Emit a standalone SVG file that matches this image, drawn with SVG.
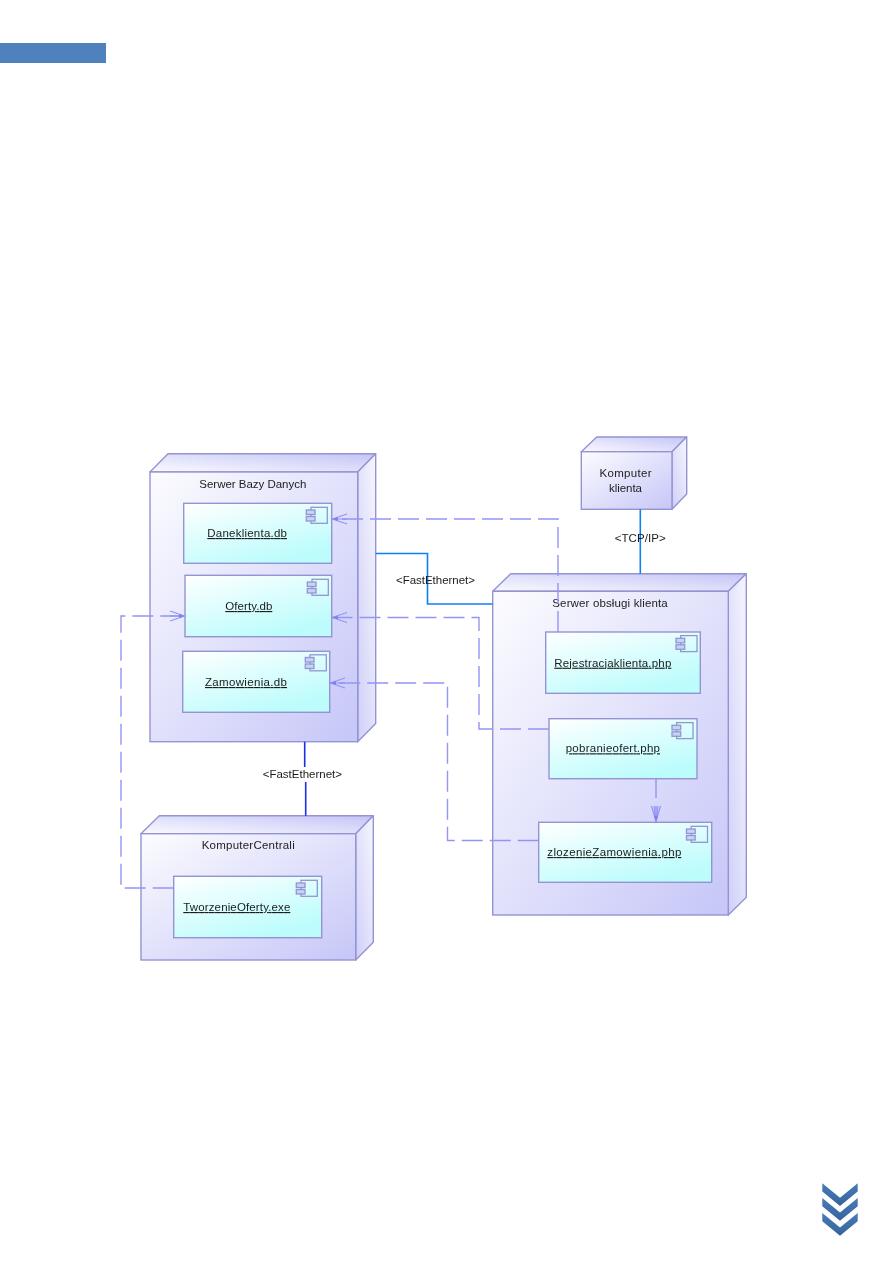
<svg xmlns="http://www.w3.org/2000/svg" xmlns:xlink="http://www.w3.org/1999/xlink" width="893" height="1263" viewBox="0 0 893 1263">
<style>
text{font-family:"Liberation Sans",Arial,sans-serif;font-size:11.5px;fill:#1c1c1c;text-anchor:start}
.front{fill:url(#gFront);stroke:#9494d2;stroke-width:1.4}
.top{fill:url(#gTop);stroke:#9494d2;stroke-width:1.4;stroke-linejoin:round}
.side{fill:url(#gSide);stroke:#9494d2;stroke-width:1.4;stroke-linejoin:round}
.comp{fill:url(#gComp);stroke:#9494d2;stroke-width:1.4}
.u{text-decoration:underline}
.ib{fill:none;stroke:#9494d2;stroke-width:1.3}
.it{fill:#c4d4f4;stroke:#9494d2;stroke-width:1.3}
.dep{fill:none;stroke:#9494f6;stroke-width:1.4;stroke-dasharray:21 7}
.dep2{fill:none;stroke:#9494f6;stroke-width:1.4}
.arrow{fill:none;stroke:#9494f6;stroke-width:1.2}
.tip{fill:#8080f4}
.net{fill:none;stroke:#1080f4;stroke-width:1.6}
.net2{fill:none;stroke:#1c2ee8;stroke-width:1.6}
</style>
<defs>
<filter id="soft" filterUnits="userSpaceOnUse" x="100" y="420" width="670" height="560"><feGaussianBlur stdDeviation="0.35"/></filter>
<linearGradient id="gFront" x1="0" y1="0" x2="1" y2="1"><stop offset="0" stop-color="#fcfcff"/><stop offset="1" stop-color="#c6c6f8"/></linearGradient>
<linearGradient id="gTop" x1="0" y1="1" x2="1" y2="0"><stop offset="0" stop-color="#fafaff"/><stop offset="1" stop-color="#c4c4f6"/></linearGradient>
<linearGradient id="gSide" x1="0" y1="1" x2="1" y2="0"><stop offset="0" stop-color="#cfcff8"/><stop offset="1" stop-color="#f6f6ff"/></linearGradient>
<linearGradient id="gComp" x1="0" y1="0" x2="0.6" y2="1"><stop offset="0" stop-color="#ffffff"/><stop offset="1" stop-color="#bcfcfc"/></linearGradient>
<linearGradient id="gChev" x1="0" y1="0" x2="0" y2="1"><stop offset="0" stop-color="#4a7bb8"/><stop offset="1" stop-color="#35639c"/></linearGradient>
<g id="icon">
<rect class="ib" x="4.7" y="-0.7" width="16.3" height="16"/>
<rect class="it" x="0" y="2" width="8.7" height="4.5"/>
<rect class="it" x="0" y="8.5" width="8.7" height="4.5"/>
</g>
<path id="chev" d="M822.3 1183.3L840 1197.7L857.7 1183.3V1191.5L840 1206L822.3 1191.5Z" fill="url(#gChev)"/>
</defs>

<rect id="header-bar" x="0" y="43" width="106" height="20" fill="#4f81bd"/>

<g id="diagram" filter="url(#soft)">
<g id="node-serwer-bazy">
<polygon class="top" points="150,472 168,453.7 375.7,453.7 357.7,472"/>
<polygon class="side" points="357.7,472 375.7,453.7 375.7,723.5 357.7,741.7"/>
<rect class="front" x="150" y="472" width="207.7" height="269.7"/>
<text x="199.3" y="487.7" textLength="107">Serwer Bazy Danych</text>
</g>
<g id="comp-daneklienta">
<rect class="comp" x="183.7" y="503.3" width="148" height="60"/>
<use xlink:href="#icon" href="#icon" x="306.3" y="508"/>
<text class="u" x="207.3" y="537" textLength="79.7">Daneklienta.db</text>
</g>
<g id="comp-oferty">
<rect class="comp" x="185" y="575.3" width="146.7" height="61.4"/>
<use xlink:href="#icon" href="#icon" x="307.3" y="580"/>
<text class="u" x="225.3" y="610" textLength="47">Oferty.db</text>
</g>
<g id="comp-zamowienia">
<rect class="comp" x="182.7" y="651.3" width="147" height="61"/>
<use xlink:href="#icon" href="#icon" x="305.3" y="655.5"/>
<text class="u" x="205" y="686" textLength="82">Zamowienia.db</text>
</g>

<g id="node-komputer-klienta">
<polygon class="top" points="581.3,451.7 596.7,437 686.7,437 672,451.7"/>
<polygon class="side" points="672,451.7 686.7,437 686.7,494 672,509.3"/>
<rect class="front" x="581.3" y="451.7" width="90.7" height="57.6"/>
<text x="599.5" y="477.3" textLength="52">Komputer</text>
<text x="609" y="491.7" textLength="33">klienta</text>
</g>

<g id="node-serwer-obslugi">
<polygon class="top" points="492.7,591.3 510.7,573.7 746.3,573.7 728.3,591.3"/>
<polygon class="side" points="728.3,591.3 746.3,573.7 746.3,897.3 728.3,915"/>
<rect class="front" x="492.7" y="591.3" width="235.6" height="323.7"/>
<text x="552.3" y="606.7" textLength="115.4">Serwer obsługi klienta</text>
</g>
<g id="comp-rejestracja">
<rect class="comp" x="545.7" y="632" width="154.6" height="61.3"/>
<use xlink:href="#icon" href="#icon" x="676" y="636.3"/>
<text class="u" x="554.3" y="666.7" textLength="117">Rejestracjaklienta.php</text>
</g>
<g id="comp-pobranie">
<rect class="comp" x="549" y="718.7" width="148" height="60"/>
<use xlink:href="#icon" href="#icon" x="672" y="723.3"/>
<text class="u" x="565.7" y="752.3" textLength="94.3">pobranieofert.php</text>
</g>
<g id="comp-zlozenie">
<rect class="comp" x="538.7" y="822.3" width="173" height="60"/>
<use xlink:href="#icon" href="#icon" x="686.5" y="827"/>
<text class="u" x="547.3" y="856" textLength="134">zlozenieZamowienia.php</text>
</g>

<g id="node-komputer-centrali">
<polygon class="top" points="141,833.7 159.3,815.7 373.3,815.7 355.7,833.7"/>
<polygon class="side" points="355.7,833.7 373.3,815.7 373.3,942.3 355.7,960"/>
<rect class="front" x="141" y="833.7" width="214.7" height="126.3"/>
<text x="201.7" y="849" textLength="93">KomputerCentrali</text>
</g>
<g id="comp-tworzenie">
<rect class="comp" x="173.7" y="876.3" width="148" height="61.4"/>
<use xlink:href="#icon" href="#icon" x="296.3" y="881"/>
<text class="u" x="183.3" y="911" textLength="107">TworzenieOferty.exe</text>
</g>

<g id="connectors">
<path class="net" d="M375.7 553.5H427.5V604H492.7"/>
<path class="net" d="M640.3 509.3V573.7"/>
<path class="net2" d="M304.7 741.7V767M305.7 782V815.7"/>
<path class="dep" d="M558 632V519H332"/>
<path class="arrow" d="M347 514L332.5 519L347 524M332.5 519H347"/>
<polygon class="tip" points="332.5,519 338,517 338,521"/>
<path class="dep" d="M549 729H479V617.5H332"/>
<path class="arrow" d="M347 612.5L332.5 617.5L347 622.5M332.5 617.5H347"/>
<polygon class="tip" points="332.5,617.5 338,615.5 338,619.5"/>
<path class="dep" d="M538.7 840.5H447.5V683H330"/>
<path class="arrow" d="M345 678L330.5 683L345 688M330.5 683H345"/>
<polygon class="tip" points="330.5,683 336,681 336,685"/>
<path class="dep" d="M173.7 888H121V616H185"/>
<path class="arrow" d="M170 611L184.5 616L170 621M184.5 616H170"/>
<polygon class="tip" points="184.5,616 179,614 179,618"/>
<path class="dep2" d="M656 778.7V798"/>
<path class="dep2" d="M656 806V822"/>
<path class="arrow" d="M651.5 806L656 821.5L660.5 806M654 806L656 821.5L658 806"/>
<polygon class="tip" points="656,821.5 654,816 658,816"/>
<text x="396" y="584" textLength="79">&lt;FastEthernet&gt;</text>
<text x="614.7" y="542" textLength="51">&lt;TCP/IP&gt;</text>
<text x="262.7" y="777.7" textLength="79.3">&lt;FastEthernet&gt;</text>
</g>
</g>

<g id="chevrons">
<use xlink:href="#chev" href="#chev"/>
<use xlink:href="#chev" href="#chev" y="14.8"/>
<use xlink:href="#chev" href="#chev" y="29.7"/>
</g>
</svg>
